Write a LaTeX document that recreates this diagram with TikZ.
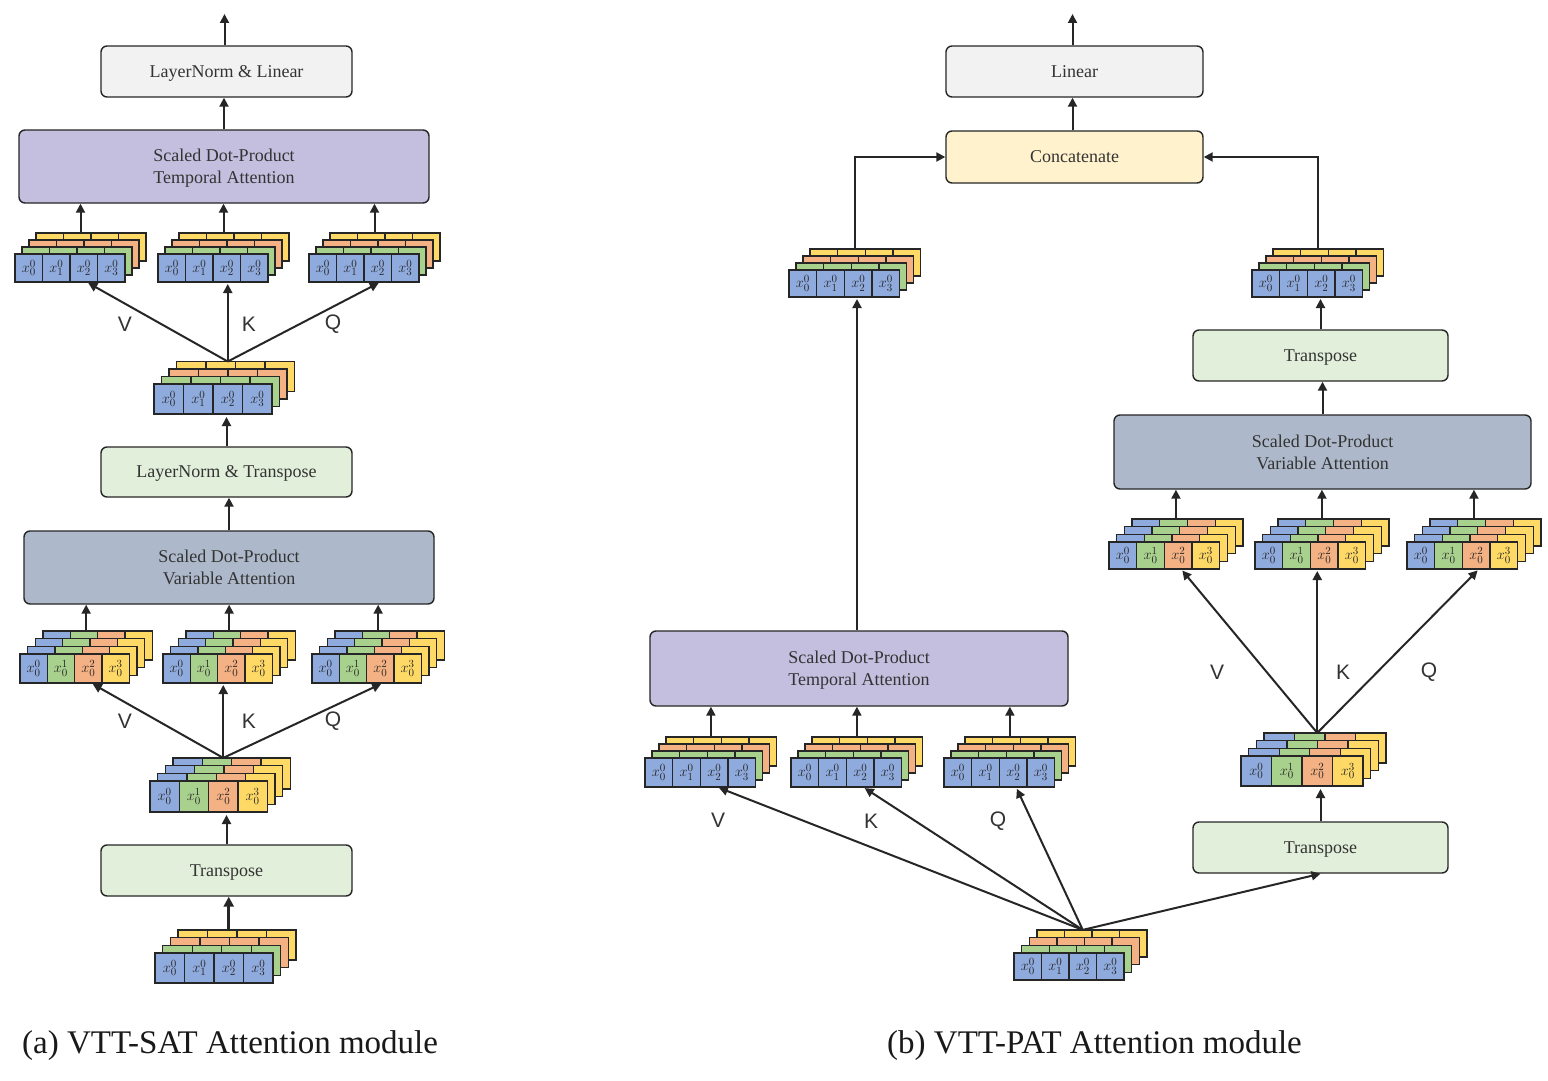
\documentclass[tikz,border=0pt]{standalone}
\usepackage{fontspec}
\setmainfont{Liberation Serif}
\newfontfamily\vkqfont{Liberation Sans}
\usetikzlibrary{arrows.meta,calc}
\definecolor{cb}{HTML}{8FAADC}
\definecolor{cg}{HTML}{A9D18E}
\definecolor{co}{HTML}{F4B183}
\definecolor{cy}{HTML}{FFD966}
\definecolor{lc}{HTML}{262626}
\definecolor{txt}{HTML}{333333}
\definecolor{fgray}{HTML}{F2F2F2}
\definecolor{flav}{HTML}{C4BEDF}
\definecolor{fslate}{HTML}{ADB9CA}
\definecolor{fgreen}{HTML}{E2EFDA}
\definecolor{fyel}{HTML}{FFF2CC}
\tikzset{
  cell/.style={draw=lc, line width=1.3pt},
  lbl/.style={font=\fontsize{15}{15}\selectfont, text=black!85, inner sep=0},
  box/.style={draw=lc, line width=1.4pt, rounded corners=6pt, align=center,
    font=\fontsize{18}{22}\selectfont, text=txt, inner sep=0, text depth=0pt},
  arr/.style={draw=lc, line width=2pt, -{Triangle[length=9pt,width=9pt]}},
  thickarr/.style={draw=lc, line width=3pt, -{Triangle[length=10pt,width=10pt]}},
  vkq/.style={font=\vkqfont\fontsize{21}{21}\selectfont, text=txt, inner sep=0},
  captext/.style={font=\fontsize{33}{36}\selectfont, anchor=base west, inner sep=0, text=black!90},
}
% stack of time tiles: name, x (front left), y (front top), cell w, cell h, layer offset
\newcommand\stackA[6]{%
  \foreach \k/\col in {3/cy,2/co,1/cg}{%
    \foreach \i in {0,1,2,3}{%
      \draw[cell, fill=\col] ({#2+\k*#6+\i*#4},{#3-\k*#6}) rectangle ++(#4,#5);
    }%
  }%
  \foreach \i in {0,1,2,3}{%
    \draw[cell, fill=cb] ({#2+\i*#4},#3) rectangle ++(#4,#5);
    \node[lbl] at ({#2+(\i+0.5)*#4},{#3+0.5*#5}) {$x_{\i}^{0}$};
  }%
  \coordinate (#1-top) at ({#2+2*#4+1.5*#6},{#3-3*#6});
  \coordinate (#1-conv) at ({#2+2.5*#4},{#3-3*#6});
  \coordinate (#1-bot) at ({#2+2*#4+1.5*#6},{#3+#5});
  \coordinate (#1-tip) at ({#2+2.6*#4},{#3+#5});
}
% stack of variable tiles
\newcommand\stackB[6]{%
  \foreach \k in {3,2,1}{%
    \foreach \i/\col in {0/cb,1/cg,2/co,3/cy}{%
      \draw[cell, fill=\col] ({#2+\k*#6+\i*#4},{#3-\k*#6}) rectangle ++(#4,#5);
    }%
  }%
  \foreach \i/\col in {0/cb,1/cg,2/co,3/cy}{%
    \draw[cell, fill=\col] ({#2+\i*#4},#3) rectangle ++(#4,#5);
    \node[lbl] at ({#2+(\i+0.5)*#4},{#3+0.5*#5}) {$x_{0}^{\i}$};
  }%
  \coordinate (#1-top) at ({#2+2*#4+1.5*#6},{#3-3*#6});
  \coordinate (#1-conv) at ({#2+2.5*#4},{#3-3*#6});
  \coordinate (#1-bot) at ({#2+2*#4+1.5*#6},{#3+#5});
  \coordinate (#1-tip) at ({#2+2.6*#4},{#3+#5});
}
\begin{document}
\begin{tikzpicture}[x=1pt,y=-1pt]
\useasboundingbox[fill=white] (0,0) rectangle (1548,1081);

% ================= (a) =================
\node[box, fill=fgray, minimum width=251pt, minimum height=51pt] (lnL) at (226.5,71.5) {LayerNorm \& Linear};
\node[box, fill=flav, minimum width=410pt, minimum height=73pt] (tL) at (224,166.5) {Scaled Dot-Product\\Temporal Attention};
\node[box, fill=fgreen, minimum width=251pt, minimum height=50pt] (lntL) at (226.5,472) {LayerNorm \& Transpose};
\node[box, fill=fslate, minimum width=410pt, minimum height=73pt] (vL) at (229,567.5) {Scaled Dot-Product\\Variable Attention};
\node[box, fill=fgreen, minimum width=251pt, minimum height=51pt] (tpL) at (226.5,870.5) {Transpose};
\coordinate (outL) at (224.5,14);

\stackA{a1}{15}{254}{27.5}{28}{7}
\stackA{a2}{158}{254}{27.5}{28}{7}
\stackA{a3}{309}{254}{27.5}{28}{7}
\stackA{m1}{154}{384}{29.5}{30}{7.5}
\stackB{b1}{20}{654}{27.3}{29}{7.7}
\stackB{b2}{163}{654}{27.3}{29}{7.7}
\stackB{b3}{312}{654}{27.3}{29}{7.7}
\stackB{m2}{150}{781}{29.3}{31}{7.7}
\stackA{z1}{155}{953}{29.5}{30}{7.7}

\draw[arr] (lnL.north) ++(-2,0) coordinate (lnLn) -- (outL);
\draw[arr] (tL.north) -- (tL.north |- lnL.south);
\foreach \s in {a1,a2,a3} \draw[arr] (\s-top) -- (\s-top |- tL.south);
\draw[arr, shorten >=2pt] (m1-conv) -- (a1-tip);
\draw[arr, shorten >=2pt] (m1-conv) -- (m1-conv |- a2-tip);
\draw[arr, shorten >=2pt] (m1-conv) -- (a3-tip);
\draw[arr, shorten >=3pt] (lntL.north) -- (lntL.north |- m1-bot);
\draw[arr] (vL.north) -- (vL.north |- lntL.south);
\foreach \s in {b1,b2,b3} \draw[arr] (\s-top) -- (\s-top |- vL.south);
\draw[arr, shorten >=2pt] (m2-conv) -- (b1-tip);
\draw[arr, shorten >=2pt] (m2-conv) -- (m2-conv |- b2-tip);
\draw[arr, shorten >=2pt] (m2-conv) -- (b3-tip);
\draw[arr, shorten >=3pt] (tpL.north) -- (tpL.north |- m2-bot);
\draw[thickarr] (z1-conv) -- (z1-conv |- tpL.south);

\node[vkq] (lV1) at (125,324) {V};
\node[vkq] (lK1) at (249,324) {K};
\node[vkq] (lQ1) at (333,324) {Q};
\node[vkq] (lV2) at (125,721) {V};
\node[vkq] (lK2) at (249,721) {K};
\node[vkq] (lQ2) at (333,721) {Q};

\node[captext] (capA) at (22,1053) {(a) VTT-SAT Attention module};

% ================= (b) =================
\node[box, fill=fgray, minimum width=257pt, minimum height=51pt] (linR) at (1074.5,71.5) {Linear};
\node[box, fill=fyel, minimum width=257pt, minimum height=52pt] (cat) at (1074.5,157) {Concatenate};
\node[box, fill=fgreen, minimum width=255pt, minimum height=51pt] (tp1) at (1320.5,355.5) {Transpose};
\node[box, fill=fslate, minimum width=417pt, minimum height=74pt] (vR) at (1322.5,452) {Scaled Dot-Product\\Variable Attention};
\node[box, fill=fgreen, minimum width=255pt, minimum height=51pt] (tp2) at (1320.5,847.5) {Transpose};
\node[box, fill=flav, minimum width=418pt, minimum height=75pt] (tR) at (859,668.5) {Scaled Dot-Product\\Temporal Attention};
\coordinate (outR) at (1072.5,14);

\stackA{r1}{789}{270}{27.7}{27}{7}
\stackA{r2}{1252}{270}{27.7}{27}{7}
\stackB{b4}{1109}{542}{27.7}{27}{7.7}
\stackB{b5}{1255}{542}{27.7}{27}{7.7}
\stackB{b6}{1407}{542}{27.7}{27}{7.7}
\stackB{m3}{1241}{756}{30.5}{30}{7.7}
\stackA{a4}{645}{758}{27.7}{29}{7}
\stackA{a5}{791}{758}{27.7}{29}{7}
\stackA{a6}{944}{758}{27.7}{29}{7}
\stackA{z2}{1014}{953}{27.5}{27}{7.7}

\draw[arr] (linR.north) ++(-2,0) coordinate (linRn) -- (outR);
\draw[arr] (cat.north) ++(-2,0) coordinate (catn) -- (catn |- linR.south);
\draw[arr] (r1-top) |- (cat.west);
\draw[arr] (r2-top) |- (cat.east);
\draw[arr, shorten >=2pt] (tR.north) ++(-2,0) coordinate (tRn) -- (tRn |- r1-bot);
\draw[arr, shorten >=2pt] (tp1.north) -- (tp1.north |- r2-bot);
\draw[arr] (vR.north) -- (vR.north |- tp1.south);
\foreach \s in {b4,b5,b6} \draw[arr] (\s-top) -- (\s-top |- vR.south);
\draw[arr, shorten >=2pt] (m3-conv) -- (b4-tip);
\draw[arr, shorten >=2pt] (m3-conv) -- (m3-conv |- b5-tip);
\draw[arr, shorten >=2pt] (m3-conv) -- (b6-tip);
\draw[arr, shorten >=3pt] (tp2.north) -- (tp2.north |- m3-bot);
\foreach \s in {a4,a5,a6} \draw[arr] (\s-top) -- (\s-top |- tR.south);
\foreach \s in {a4,a5,a6} \draw[arr, shorten >=2pt] (z2-conv) -- (\s-tip);
\draw[arr] (z2-conv) -- (tp2.south);

\node[vkq] (rV1) at (1217,672) {V};
\node[vkq] (rK1) at (1343,672) {K};
\node[vkq] (rQ1) at (1429,672) {Q};
\node[vkq] (rV2) at (718,820) {V};
\node[vkq] (rK2) at (871,821) {K};
\node[vkq] (rQ2) at (998,821) {Q};

\node[captext] (capB) at (887,1053) {(b) VTT-PAT Attention module};
\end{tikzpicture}
\end{document}
